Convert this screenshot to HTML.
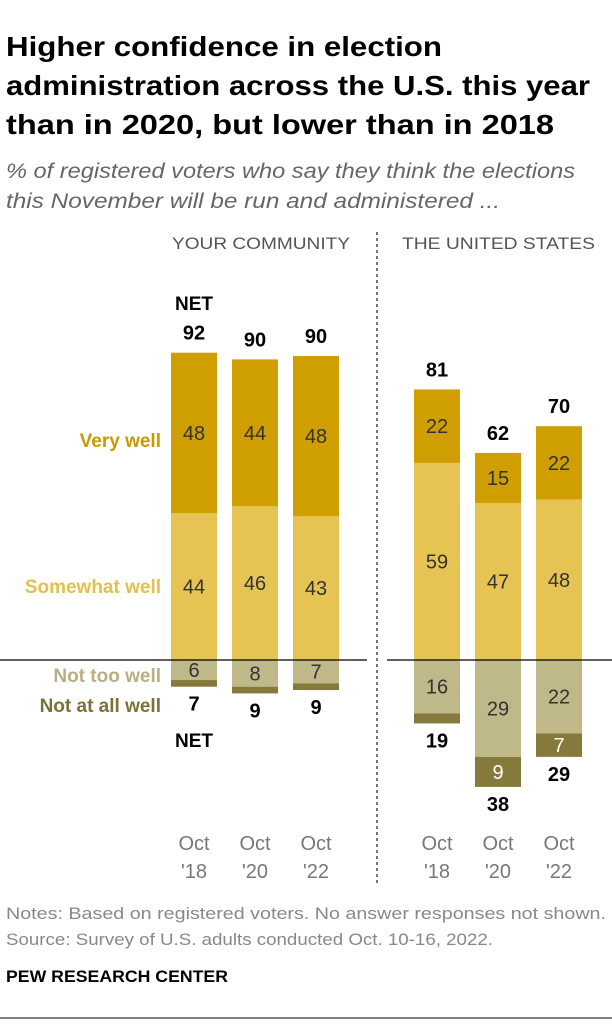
<!DOCTYPE html>
<html><head><meta charset="utf-8"><style>
body{margin:0;background:#fff;width:612px;height:1024px;overflow:hidden;font-family:"Liberation Sans",sans-serif}
svg text{font-family:"Liberation Sans",sans-serif}
</style></head><body>
<svg id="c" width="612" height="1024" xmlns="http://www.w3.org/2000/svg">
<text x="6" y="56" font-size="28" font-weight="bold" fill="#000" textLength="436" lengthAdjust="spacingAndGlyphs">Higher confidence in election</text>
<text x="6" y="95" font-size="28" font-weight="bold" fill="#000" textLength="584" lengthAdjust="spacingAndGlyphs">administration across the U.S. this year</text>
<text x="6" y="134" font-size="28" font-weight="bold" fill="#000" textLength="548" lengthAdjust="spacingAndGlyphs">than in 2020, but lower than in 2018</text>
<text x="6" y="178" font-size="21" font-style="italic" fill="#666" textLength="569" lengthAdjust="spacingAndGlyphs">% of registered voters who say they think the elections</text>
<text x="6" y="208" font-size="21" font-style="italic" fill="#666" textLength="494" lengthAdjust="spacingAndGlyphs">this November will be run and administered ...</text>
<text x="172" y="249" font-size="17" fill="#555" textLength="178" lengthAdjust="spacingAndGlyphs">YOUR COMMUNITY</text>
<text x="402" y="249" font-size="17" fill="#555" textLength="193" lengthAdjust="spacingAndGlyphs">THE UNITED STATES</text>
<line x1="377" y1="232" x2="377" y2="885" stroke="#777" stroke-width="2" stroke-dasharray="3,3"/>
<g id="bars"></g>
<line x1="0" y1="660" x2="367" y2="660" stroke="#000" stroke-width="1.2"/>
<line x1="387" y1="660" x2="612" y2="660" stroke="#000" stroke-width="1.2"/>
<text x="161" y="447" font-size="19" font-weight="bold" fill="#C99A00" text-anchor="end">Very well</text>
<text x="161" y="593" font-size="19" font-weight="bold" fill="#E3BF4C" text-anchor="end">Somewhat well</text>
<text x="161" y="682" font-size="19" font-weight="bold" fill="#B8B085" text-anchor="end">Not too well</text>
<text x="161" y="712" font-size="19" font-weight="bold" fill="#7D7236" text-anchor="end">Not at all well</text>
<text x="194" y="310" font-size="19" font-weight="bold" text-anchor="middle">NET</text>
<text x="194" y="747" font-size="19" font-weight="bold" text-anchor="middle">NET</text>
<text x="6" y="919" font-size="16.5" fill="#888" textLength="600" lengthAdjust="spacingAndGlyphs">Notes: Based on registered voters. No answer responses not shown.</text>
<text x="6" y="945" font-size="16.5" fill="#888" textLength="487" lengthAdjust="spacingAndGlyphs">Source: Survey of U.S. adults conducted Oct. 10-16, 2022.</text>
<text x="6" y="982" font-size="17" font-weight="bold" fill="#000" textLength="222" lengthAdjust="spacingAndGlyphs">PEW RESEARCH CENTER</text>
<line x1="0" y1="1018" x2="612" y2="1018" stroke="#000" stroke-width="1"/>
</svg>
<script>
const categories=["Oct '18","Oct '20","Oct '22","Oct '18","Oct '20","Oct '22"];
const veryWell=[48,44,48,22,15,22];
const somewhatWell=[44,46,43,59,47,48];
const notTooWell=[6,8,7,16,29,22];
const notAtAllWell=[2,2,2,3,9,7];
const netPositive=[92,90,90,81,62,70];
const netNegative=[7,9,9,19,38,29];
const showNotAtAllLabel=[false,false,false,false,true,true];
const xs=[171,232,293,414,475,536];
const bw=46, base=660, k=3.34;
const y=v=>base-v*k;
const g=document.getElementById('bars');
const NS='http://www.w3.org/2000/svg';
function rect(x,y1,y2,fill){const r=document.createElementNS(NS,'rect');r.setAttribute('x',x);r.setAttribute('y',Math.min(y1,y2));r.setAttribute('width',bw);r.setAttribute('height',Math.abs(y2-y1));r.setAttribute('fill',fill);g.appendChild(r);return r;}
function txt(x,yy,s,opt){const t=document.createElementNS(NS,'text');t.setAttribute('x',x);t.setAttribute('y',yy);t.setAttribute('text-anchor','middle');t.setAttribute('font-size',opt.size||20);if(opt.bold)t.setAttribute('font-weight','bold');t.setAttribute('fill',opt.fill||'#333');t.textContent=s;g.appendChild(t);return t;}
categories.forEach((c,i)=>{
const x=xs[i],cx=x+bw/2;
const sw=somewhatWell[i],vw=veryWell[i];
let r=rect(x,y(sw+vw),y(sw),'#CF9E00');


r=rect(x,y(sw),base,'#E6C454');


const nt=notTooWell[i],na=notAtAllWell[i];
r=rect(x,base,y(-nt),'#BFB888');


r=rect(x,y(-nt),y(-nt-na),'#857A3B');


let t=txt(cx,(y(sw+vw)+y(sw))/2+7,vw,{});


t=txt(cx,(y(sw)+base)/2+7,sw,{});


t=txt(cx,(base+y(-nt))/2+7,nt,{});


if(showNotAtAllLabel[i]){t=txt(cx,(y(-nt)+y(-nt-na))/2+7,na,{fill:'#fff'});

}
t=txt(cx,y(sw+vw)-13,netPositive[i],{bold:true,fill:'#000'});


t=txt(cx,y(-nt-na)+24,netNegative[i],{bold:true,fill:'#000'});


const parts=c.split(' ');
t=txt(cx,850,parts[0],{fill:'#777'});


t=txt(cx,878,parts[1],{fill:'#777'});


});
</script>
</body></html>
